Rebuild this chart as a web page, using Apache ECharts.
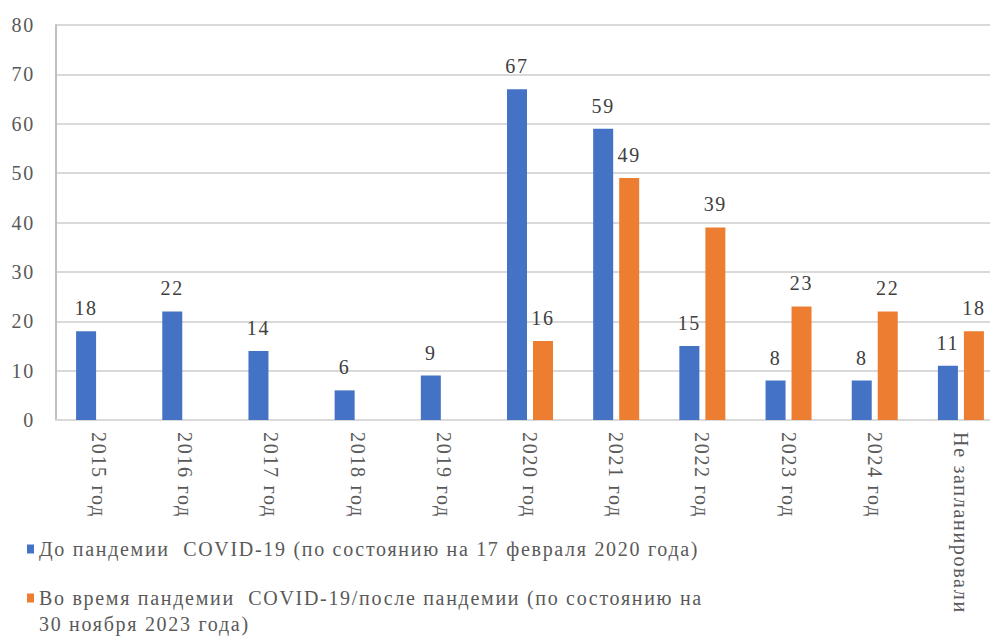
<!DOCTYPE html>
<html><head><meta charset="utf-8">
<script src="https://cdn.jsdelivr.net/npm/echarts@6/dist/echarts.min.js"></script>
<style>html,body{margin:0;padding:0;background:#fff}#c{width:990px;height:637px}#c svg text{letter-spacing:1.7px}</style>
</head><body><div id="c"></div>
<script>
var categories = ['2015 год','2016 год','2017 год','2018 год','2019 год','2020 год','2021 год','2022 год','2023 год','2024 год','Не запланировали'];
var seriesNames = ['До пандемии  COVID-19 (по состоянию на 17 февраля 2020 года)', 'Во время пандемии  COVID-19/после пандемии (по состоянию на\n30 ноября 2023 года)'];
var beforeValues = [18,22,14,6,9,67,59,15,8,8,11];
var afterValues = [null,null,null,null,null,16,49,39,23,22,18];
var yTicks = {min:0, max:80, interval:10};

var font = "'Liberation Serif', 'Times New Roman', serif";
var chart = echarts.init(document.getElementById('c'), null, {renderer:'svg'});
var lbl = {show:true, position:'top', distance:13, color:'#404040', fontFamily:font, fontSize:20};
var legendText = {color:'#595959', fontFamily:font, fontSize:20, lineHeight:26};
chart.setOption({
  animation:false,
  textStyle:{fontFamily:font},
  grid:{left:56, top:25, width:948, height:395, containLabel:false, outerBoundsMode:'none'},
  legend:[{
    orient:'vertical', left:27, top:536, itemWidth:7, itemHeight:9, padding:0,
    icon:'rect', textStyle:legendText, data:[seriesNames[0]]
  },{
    orient:'vertical', left:27, top:559, itemWidth:7, itemHeight:9, padding:0,
    icon:'rect', textStyle:legendText, data:[seriesNames[1]],
    formatter:function(name){ return '\n' + name; }
  }],
  xAxis:{
    type:'category', data:categories,
    axisLine:{lineStyle:{color:'#d9d9d9', width:2}},
    axisTick:{show:false},
    axisLabel:{rotate:-90, margin:12, color:'#595959', fontFamily:font, fontSize:20, interval:0}
  },
  yAxis:{
    type:'value', min:yTicks.min, max:yTicks.max, interval:yTicks.interval,
    axisLine:{show:true, lineStyle:{color:'#bfbfbf', width:2}},
    axisTick:{show:false},
    splitLine:{lineStyle:{color:'#d9d9d9', width:2}},
    axisLabel:{margin:21, color:'#595959', fontFamily:font, fontSize:20}
  },
  series:[
    {name:seriesNames[0], type:'bar', data:beforeValues, barWidth:20, barGap:'30%',
     itemStyle:{color:'#4472c4'}, label:lbl},
    {name:seriesNames[1], type:'bar', data:afterValues, barWidth:20, barGap:'30%',
     itemStyle:{color:'#ed7d31'}, label:lbl}
  ]
});
</script></body></html>
